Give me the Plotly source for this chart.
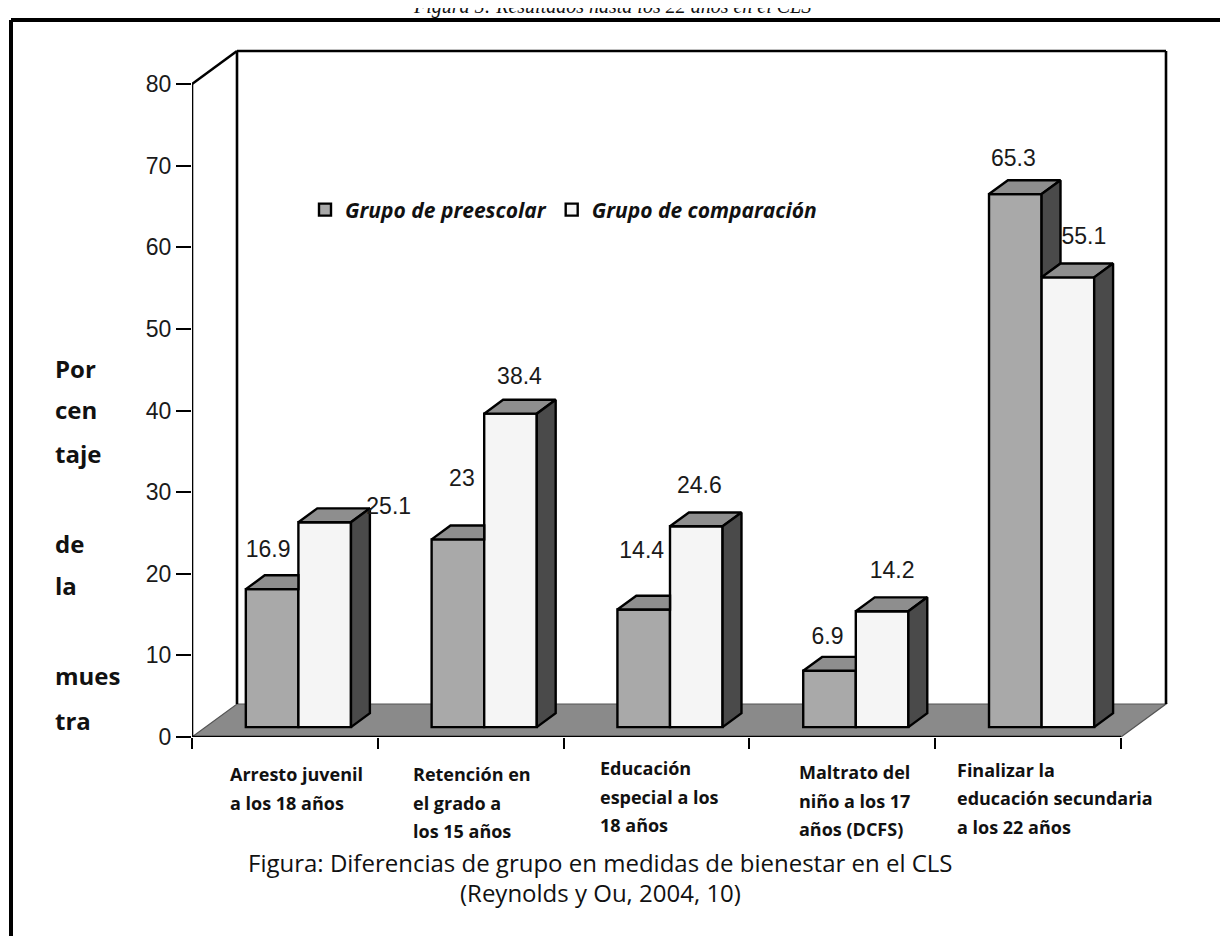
import plotly.graph_objects as go

# ---------------- data ----------------
categories = [
    "Arresto juvenil a los 18 años",
    "Retención en el grado a los 15 años",
    "Educación especial a los 18 años",
    "Maltrato del niño a los 17 años (DCFS)",
    "Finalizar la educación secundaria a los 22 años",
]
category_label_lines = [
    ["Arresto juvenil", "a los 18 años"],
    ["Retención en", "el grado a", "los 15 años"],
    ["Educación", "especial a los", "18 años"],
    ["Maltrato del", "niño a los 17", "años (DCFS)"],
    ["Finalizar la", "educación secundaria", "a los 22 años"],
]
series_names = ["Grupo de preescolar", "Grupo de comparación"]
preescolar = [16.9, 23, 14.4, 6.9, 65.3]
comparacion = [25.1, 38.4, 24.6, 14.2, 55.1]
y_ticks = [0, 10, 20, 30, 40, 50, 60, 70, 80]
y_title_words = ["Por", "cen", "taje", "de", "la", "mues", "tra"]
caption_lines = ["Figura: Diferencias de grupo en medidas de bienestar en el CLS",
                 "(Reynolds y Ou, 2004, 10)"]
page_title = "Figura 5: Resultados hasta los 22 años en el CLS"

# ---------------- geometry / style ----------------
W, H = 1228, 936
OFF = 8                       # page body margin of the html page
L, R, T, B = 192 - OFF, 1180 - OFF, 40 - OFF, 737 - OFF
XS = 185.8          # px per category unit
YS = 8.1625         # px per percentage point
xmax = (R - L) / XS
ymax = (B - T) / YS

WX, WY = 45 / XS, 33 / YS          # depth of the back wall
F_FRONT, F_BACK = 0.30, 0.72
DXF, DYF = F_FRONT * WX, F_FRONT * WY
DDX, DDY = (F_BACK - F_FRONT) * WX, (F_BACK - F_FRONT) * WY
BAR_W = 0.283

GREY = "#a9a9a9"
WHITE = "#f5f5f5"
TOP = "#8e8e8e"
SIDE = "#4a4a4a"
FLOOR = "#8a8a8a"
LW = 2.4

COMIC = "Comic Sans MS, Open Sans, sans-serif"
ARIAL = "Liberation Sans, Arial, sans-serif"

# label offsets from the top-front centre of each bar (px; right, up)
lab_off_grey = [(-4, 38), (4, 59), (-2, 57), (-2, 33), (-2, 34)]
lab_off_white = [(64, 14), (9, 35), (3, 39), (10, 39), (16, 39)]


def pp(px, py):
    """page pixel -> paper coordinates"""
    return (px - OFF - L) / (R - L), (B - (py - OFF)) / (B - T)


n = len(categories)
xg = [i + 0.5 - BAR_W / 2 + DXF for i in range(n)]
xw = [i + 0.5 + BAR_W / 2 + DXF for i in range(n)]

fig = go.Figure()

fig.add_trace(go.Bar(x=xg, y=preescolar, base=DYF, width=BAR_W, name=series_names[0],
                     marker=dict(color=GREY, line=dict(color="black", width=LW))))
fig.add_trace(go.Bar(x=xw, y=comparacion, base=DYF, width=BAR_W, name=series_names[1],
                     marker=dict(color=WHITE, line=dict(color="black", width=LW))))


def poly(xs, ys, color):
    fig.add_trace(go.Scatter(x=xs + [xs[0]], y=ys + [ys[0]], mode="lines", fill="toself",
                             fillcolor=color, line=dict(color="black", width=LW),
                             hoverinfo="skip", showlegend=False))


for i in range(n):
    g0 = xg[i] - BAR_W / 2
    g1 = xg[i] + BAR_W / 2
    w1 = xw[i] + BAR_W / 2
    tg = preescolar[i] + DYF
    tw = comparacion[i] + DYF
    if tw >= tg:
        poly([g0, g1, g1, g0 + DDX], [tg, tg, tg + DDY, tg + DDY], TOP)
    else:
        poly([g0, g1, g1 + DDX, g0 + DDX], [tg, tg, tg + DDY, tg + DDY], TOP)
        poly([g1, g1, g1 + DDX, g1 + DDX], [tw, tg, tg + DDY, tw + DDY], SIDE)
    poly([g1, w1, w1 + DDX, g1 + DDX], [tw, tw, tw + DDY, tw + DDY], TOP)
    poly([w1, w1, w1 + DDX, w1 + DDX], [DYF, tw, tw + DDY, DYF + DDY], SIDE)

# value labels
lx, ly, lt = [], [], []
for vals, xs, offs in ((preescolar, xg, lab_off_grey), (comparacion, xw, lab_off_white)):
    for v, x, (dx, dy) in zip(vals, xs, offs):
        lx.append(x + dx / XS)
        ly.append(v + DYF + dy / YS)
        lt.append(f"{v:g}")
fig.add_trace(go.Scatter(x=lx, y=ly, text=lt, mode="text", textposition="middle center",
                         textfont=dict(family=ARIAL, size=23, color="#1a1a1a"),
                         hoverinfo="skip", showlegend=False, cliponaxis=False))

# floor, walls, axis lines
shapes = []
shapes.append(dict(type="path", xref="x", yref="y", layer="below",
                   path=f"M 0 0 L {n} 0 L {n + WX} {WY} L {WX} {WY} Z",
                   fillcolor=FLOOR, line=dict(color="#555555", width=1.2)))
top = y_ticks[-1]
for (x0, y0, x1, y1) in [(0, 0, 0, top), (0, top, WX, top + WY), (WX, top + WY, n + WX, top + WY),
                         (n + WX, top + WY, n + WX, WY), (WX, WY, WX, top + WY), (0, 0, n, 0)]:
    shapes.append(dict(type="line", xref="x", yref="y", layer="below", x0=x0, y0=y0, x1=x1, y1=y1,
                       line=dict(color="black", width=2.6)))

# page frame
fx0, fy0 = pp(11, 20)
fx1, fy1 = pp(1240, 20)
shapes.append(dict(type="line", xref="paper", yref="paper", x0=fx0, y0=fy0, x1=fx1, y1=fy1,
                   line=dict(color="black", width=4)))
fxb, fyb = pp(11, 950)
shapes.append(dict(type="line", xref="paper", yref="paper", x0=fx0, y0=fy0, x1=fxb, y1=fyb,
                   line=dict(color="black", width=4)))

annotations = []
# category labels
cat_x = [228, 411, 598, 797, 955]
cat_y = [774, 774, 768, 772, 770]
for lines, cx, cy in zip(category_label_lines, cat_x, cat_y):
    for k, line in enumerate(lines):
        ax, ay = pp(cx, cy + 28.5 * k)
        annotations.append(dict(x=ax, y=ay, xref="paper", yref="paper", text=line, showarrow=False,
                                xanchor="left", yanchor="middle",
                                font=dict(family=COMIC, size=18, color="#111", weight="bold")))
# y title words
word_y = [368, 410, 453, 543, 585, 675, 720]
for wd, wy in zip(y_title_words, word_y):
    ax, ay = pp(53, wy)
    annotations.append(dict(x=ax, y=ay, xref="paper", yref="paper", text=wd, showarrow=False,
                            xanchor="left", yanchor="middle",
                            font=dict(family=COMIC, size=24, color="#111", weight="bold")))
# caption
for line, cy in zip(caption_lines, [862, 892]):
    ax, ay = pp(600, cy)
    annotations.append(dict(x=ax, y=ay, xref="paper", yref="paper", text=line, showarrow=False,
                            xanchor="center", yanchor="middle",
                            font=dict(family=COMIC, size=24, color="#111")))
# page title (partly cut by the top edge, as in the scan)
ax, ay = pp(612, 7)
annotations.append(dict(x=ax, y=ay, xref="paper", yref="paper", text=page_title, showarrow=False,
                        xanchor="center", yanchor="middle",
                        font=dict(family="Liberation Serif, Times New Roman, serif", size=20,
                                  color="#111", style="italic")))

lgx, lgy = pp(305, 210)
fig.update_layout(
    width=W, height=H,
    margin=dict(l=L, r=W - R, t=T, b=H - B, autoexpand=False),
    paper_bgcolor="white", plot_bgcolor="white",
    barmode="overlay",
    showlegend=True,
    legend=dict(orientation="h", x=lgx, y=lgy, xanchor="left", yanchor="middle",
                bgcolor="rgba(0,0,0,0)", traceorder="normal", itemwidth=30,
                font=dict(family=COMIC, size=21, color="#111", weight="bold", style="italic")),
    xaxis=dict(range=[0, xmax], tickvals=list(range(n + 1)), ticktext=[""] * (n + 1),
               ticks="outside", ticklen=11, tickwidth=2, tickcolor="black",
               showgrid=False, zeroline=False, showline=False, fixedrange=True),
    yaxis=dict(range=[0, ymax], tickvals=y_ticks, ticks="outside", ticklen=15, tickwidth=2,
               tickcolor="black", showgrid=False, zeroline=False, showline=False,
               tickfont=dict(family=ARIAL, size=23, color="#1a1a1a"), fixedrange=True),
    shapes=shapes,
    annotations=annotations,
)

fig.write_html("out.html")
